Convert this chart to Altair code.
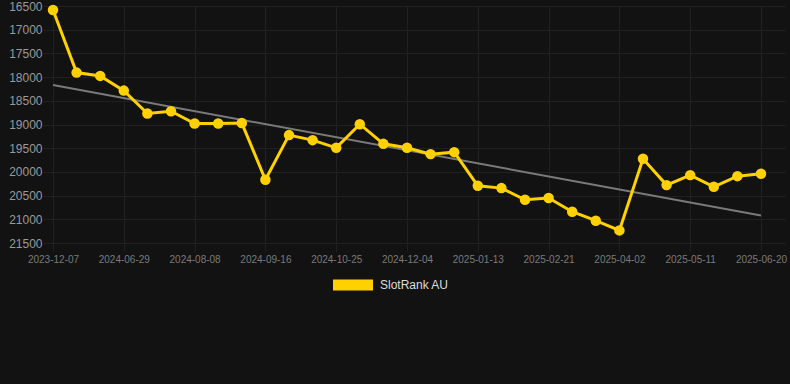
import json
import altair as alt
import pandas as pd

# SlotRank AU rank values (lower is better, axis reversed)
values = [16584, 17905, 17975, 18285, 18769, 18720, 18980, 18980, 18970, 20166,
          19224, 19330, 19492, 18993, 19408, 19492, 19625, 19583, 20293, 20342,
          20588, 20552, 20840, 21030, 21234, 19724, 20279, 20068, 20314, 20090, 20040]
tick_labels = ["2023-12-07", "2024-06-29", "2024-08-08", "2024-09-16", "2024-10-25",
               "2024-12-04", "2025-01-13", "2025-02-21", "2025-04-02", "2025-05-11",
               "2025-06-20"]
series = "SlotRank AU"

df = pd.DataFrame({"idx": list(range(len(values))), "value": values, "series": series})

BG = "#121212"
GOLD = "#FFD100"
GRID = "#202020"

x_enc = alt.X("idx:Q",
              scale=alt.Scale(domain=[-0.424, 31.017], nice=False, zero=False),
              axis=alt.Axis(values=list(range(0, 31, 3)),
                            labelExpr=json.dumps(tick_labels) + "[round(datum.value/3)]",
                            title=None, grid=True, gridColor=GRID, domain=False,
                            tickColor=GRID, tickSize=8, labelPadding=3,
                            labelColor="#7a7a7a", labelFontSize=10, labelFont="Arial"))
y_enc = alt.Y("value:Q",
              scale=alt.Scale(domain=[16500, 21500], reverse=True, nice=False, zero=False),
              axis=alt.Axis(values=list(range(16500, 21501, 500)), format="d", title=None,
                            grid=True, gridColor=GRID, domain=False, ticks=False,
                            labelPadding=1, labelColor="#9a9a9a",
                            labelFontSize=12, labelFont="Arial"))

color = alt.Color("series:N", scale=alt.Scale(domain=[series], range=[GOLD]),
                  legend=alt.Legend(title=None, orient="none", legendX=290, legendY=259,
                                    symbolType="M-1,-0.275H1V0.275H-1Z", symbolSize=1600,
                                    symbolStrokeWidth=0, labelColor="#dddddd",
                                    labelFontSize=12, labelFont="Arial", labelOffset=7))

base = alt.Chart(df)

trend = base.transform_regression("idx", "value", method="linear", extent=[0, 30]).mark_line(
    color="#7a7a7a", strokeWidth=2).encode(x=x_enc, y=y_enc)

line = base.mark_line(strokeWidth=3, clip=False).encode(x=x_enc, y=y_enc, color=color)
pts = base.mark_point(filled=True, size=110, opacity=1, clip=False).encode(
    x=x_enc, y=y_enc, color=alt.Color("series:N", scale=alt.Scale(domain=[series], range=[GOLD]), legend=None))

chart = alt.layer(trend, line, pts).properties(
    width=742, height=237,
    autosize=alt.AutoSizeParams(type="none"),
    padding={"left": 43, "top": 6, "right": 5, "bottom": 141},
    background=BG,
).configure_view(stroke=None)

chart.save("out.html", embed_options={"renderer": "svg", "actions": False})
